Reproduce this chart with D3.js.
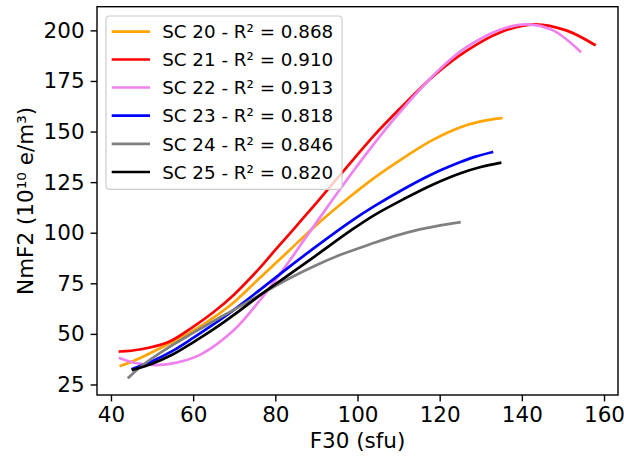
<!DOCTYPE html>
<html>
<head>
<meta charset="utf-8">
<script src="https://cdn.jsdelivr.net/npm/d3@7"></script>
<style>
  html, body { margin: 0; padding: 0; background: #fff; }
  svg { display: block; font-family: "DejaVu Sans", sans-serif; }
</style>
</head>
<body>
<svg id="chart" width="624" height="456"></svg>
<script>
// ---- Data ----
const seriesNames = ["SC 20", "SC 21", "SC 22", "SC 23", "SC 24", "SC 25"];
const r2Labels = ["0.868", "0.910", "0.913", "0.818", "0.846", "0.820"];
const seriesColors = ["orange", "red", "violet", "blue", "gray", "black"];

const sc20x = [42.4, 47, 53, 60, 66, 70, 76.4, 83, 89.8, 98.3, 104, 111.6, 118, 124.9, 130, 135];
const sc20y = [34.2, 38, 44, 51.5, 59.5, 65.8, 78, 90.5, 103.5, 118, 127, 137.5, 145.5, 152, 155, 156.6];

const sc21x = [42.2, 47, 54, 60, 65, 70, 76.4, 80, 84.9, 89.8, 98.7, 104, 110.4, 118.5, 126.6, 134.7, 143, 150.8, 157.7];
const sc21y = [41.3, 42.3, 46, 53.5, 60.8, 69.5, 83, 91.5, 102.8, 114.3, 135.5, 148, 161.5, 177.5, 190, 199, 203, 200, 192.9];

const sc22x = [42.2, 46, 51, 56, 62, 70, 76.4, 82, 89.8, 99, 108, 116.9, 122, 126.6, 134.7, 141.1, 147.6, 154.2];
const sc22y = [38, 35.6, 34.6, 35.8, 40, 52, 67, 82, 104.5, 130.5, 154, 174.5, 184.5, 191.8, 200.3, 203, 200, 189.6];

const sc23x = [45.3, 50, 55, 60, 65, 70, 76.4, 83, 89.8, 98.3, 104, 111.6, 118, 124.9, 128.5, 132.7];
const sc23y = [32.8, 36.5, 41.6, 48, 54.8, 62, 72, 82.5, 93, 105.5, 113, 122, 128.8, 134.8, 137.5, 139.8];

const sc24x = [44.3, 48, 53, 60, 66, 70, 76.4, 83, 89.8, 96, 103.1, 109, 114.4, 119.5, 124.8];
const sc24y = [28.5, 35, 42, 50.5, 57.5, 62, 69.5, 77, 83.8, 89.2, 94.3, 98.3, 101.3, 103.4, 105.1];

const sc25x = [45.4, 50, 55, 60, 65, 70, 76.4, 83, 89.8, 98.3, 104, 111.6, 118, 124.9, 130, 134.7];
const sc25y = [32.3, 35.3, 39.8, 45.8, 52.3, 59.5, 69.3, 78.8, 88.6, 101, 108.6, 117, 123.5, 129.3, 132.5, 134.5];

const xTicks = [40, 60, 80, 100, 120, 140, 160];
const yTicks = [25, 50, 75, 100, 125, 150, 175, 200];
const xLabel = "F30 (sfu)";
const yLabel = "NmF2 (10\u00B9\u2070 e/m\u00B3)";

const seriesX = [sc20x, sc21x, sc22x, sc23x, sc24x, sc25x];
const seriesY = [sc20y, sc21y, sc22y, sc23y, sc24y, sc25y];

// ---- Layout ----
const svg = d3.select("#chart");
const plot = { left: 97, right: 618, top: 6.7, bottom: 395 };
const x = d3.scaleLinear().domain([36.6, 163.4]).range([plot.left, plot.right]);
const y = d3.scaleLinear().domain([19.8, 211.7]).range([plot.bottom, plot.top]);

const tickFont = 21.5;
const legendFont = 18.3;
const lw = 2.7;

svg.append("defs").append("clipPath").attr("id", "clip")
  .append("rect").attr("x", plot.left).attr("y", plot.top)
  .attr("width", plot.right - plot.left).attr("height", plot.bottom - plot.top);

// curves
const line = d3.line().x(d => x(d[0])).y(d => y(d[1])).curve(d3.curveCatmullRom.alpha(0.5));
const g = svg.append("g").attr("clip-path", "url(#clip)");
seriesNames.forEach((name, i) => {
  const pts = seriesX[i].map((v, j) => [v, seriesY[i][j]]);
  g.append("path").datum(pts)
    .attr("d", line)
    .attr("fill", "none")
    .attr("stroke", seriesColors[i])
    .attr("stroke-width", lw)
    .attr("stroke-linecap", "square");
});

// axes
const xAxis = d3.axisBottom(x).tickValues(xTicks).tickSize(6.4).tickPadding(5.5).tickFormat(d3.format("d"));
const yAxis = d3.axisLeft(y).tickValues(yTicks).tickSize(6.4).tickPadding(6).tickFormat(d3.format("d"));

const gx = svg.append("g").attr("transform", `translate(0,${plot.bottom})`).call(xAxis);
const gy = svg.append("g").attr("transform", `translate(${plot.left},0)`).call(yAxis);
[gx, gy].forEach(ax => {
  ax.select(".domain").remove();
  ax.selectAll(".tick line").attr("stroke", "#000").attr("stroke-width", 1.4);
  ax.selectAll(".tick text").attr("fill", "#000").style("font-size", tickFont + "px")
    .style("font-family", "DejaVu Sans");
});

// frame (spines)
svg.append("rect")
  .attr("x", plot.left).attr("y", plot.top)
  .attr("width", plot.right - plot.left).attr("height", plot.bottom - plot.top)
  .attr("fill", "none").attr("stroke", "#000").attr("stroke-width", 1.4);

// axis labels
svg.append("text")
  .attr("x", (plot.left + plot.right) / 2).attr("y", 448.3)
  .attr("text-anchor", "middle").style("font-size", tickFont + "px")
  .text(xLabel);
svg.append("text")
  .attr("transform", `translate(33.3,${(plot.top + plot.bottom) / 2}) rotate(-90)`)
  .attr("text-anchor", "middle").style("font-size", tickFont + "px")
  .text(yLabel);

// legend
const leg = svg.append("g");
leg.append("rect")
  .attr("x", 106).attr("y", 16).attr("width", 236).attr("height", 173.3)
  .attr("rx", 3.5).attr("ry", 3.5)
  .attr("fill", "#fff").attr("fill-opacity", 0.8)
  .attr("stroke", "#cccccc").attr("stroke-width", 1.2);
const rowY = [31.7, 59.5, 87.5, 115.7, 143.8, 172];
seriesNames.forEach((name, i) => {
  leg.append("line")
    .attr("x1", 111.7).attr("x2", 150).attr("y1", rowY[i]).attr("y2", rowY[i])
    .attr("stroke", seriesColors[i]).attr("stroke-width", lw);
  leg.append("text")
    .attr("x", 162.2).attr("y", rowY[i] + 6.7)
    .style("font-size", legendFont + "px")
    .text(`${name} - R\u00B2 = ${r2Labels[i]}`);
});
</script>
</body>
</html>
